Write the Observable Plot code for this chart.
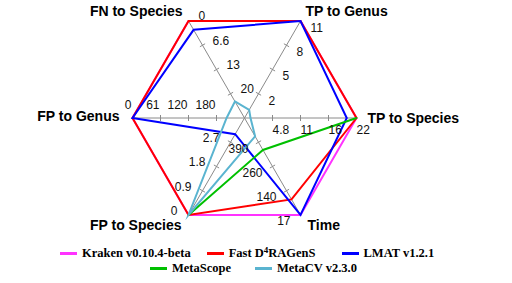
<!DOCTYPE html>
<html><head><meta charset="utf-8">
<script src="https://cdn.jsdelivr.net/npm/d3@7"></script>
<script src="https://cdn.jsdelivr.net/npm/@observablehq/plot@0.6"></script>
<style>
body{margin:0;background:#fff;width:512px;height:283px;overflow:hidden;}
#chart svg{display:block;}
#legend{margin-top:5.5px;font-family:"Liberation Serif","Times New Roman",serif;font-weight:bold;font-size:12.5px;color:#000;}
.row{display:flex;height:15px;align-items:center;white-space:nowrap;}
.item{display:flex;align-items:center;}
.sw{display:inline-block;width:17px;height:3px;margin-right:5px;}
.sup{font-size:9px;position:relative;top:-4px;line-height:0;}
</style></head><body>
<div id="chart"></div>
<div id="legend"></div>
<script>
// ---- data ----
const axes = ["TP to Species","TP to Genus","FN to Species","FP to Genus","FP to Species","Time"];
const axisInner = [-0.93, -1, 26.4, 244, 3.6, 509];   // value at centre
const axisOuter = [22, 11, 0, 0, 0, 17];               // value at rim
const tickFractions = [0.25, 0.5, 0.75, 1];
const tickLabels = [
  ["4.8","11","16","22"],
  ["2","5","8","11"],
  ["20","13","6.6","0"],
  ["180","120","61","0"],
  ["2.7","1.8","0.9","0"],
  ["390","260","140","17"]
];
const seriesNames = ["Kraken v0.10.4-beta","Fast D4RAGenS","LMAT v1.2.1","MetaScope","MetaCV v2.3.0"];
const kraken    = [22, 11, 0, 0, 0, 17];
const fast      = [22, 11, 0, 0, 0, 96];
const lmat      = [20, 11, 2.4, 0, 3.0, 17];
const metascope = [22, null, null, null, 0, 347];
const metacv    = [0.3, 0, 21.9, 205, 0, 416];
const seriesValues = [kraken, fast, lmat, metascope, metacv];
const colors = ["#ff33ff","#ff0000","#0000ff","#00c000","#5ab4d0"];

// ---- styles ----
const R = 112;
const tickStyle = [
  {anchor:"start", dx:0,   dy:12},
  {anchor:"start", dx:10,  dy:7},
  {anchor:"start", dx:10,  dy:-4.5},
  {anchor:"end",   dx:-1,  dy:-13},
  {anchor:"end",   dx:-11, dy:-4},
  {anchor:"end",   dx:-10, dy:6.5}
];
const titleStyle = [
  {anchor:"start", dx:11,  dy:1},
  {anchor:"start", dx:5,   dy:-9},
  {anchor:"end",   dx:-6,  dy:-9},
  {anchor:"end",   dx:-13, dy:-1},
  {anchor:"end",   dx:-7,  dy:11},
  {anchor:"start", dx:7,   dy:11}
];

const ang = i => i * Math.PI / 3;
const frac = (i, v) => (v - axisInner[i]) / (axisOuter[i] - axisInner[i]);
const pt = (i, f) => ({x: f * Math.cos(ang(i)), y: f * Math.sin(ang(i))});

const marks = [];
// axis spokes
marks.push(Plot.link(axes, {
  x1: () => 0, y1: () => 0,
  x2: (d, i) => Math.cos(ang(i)), y2: (d, i) => Math.sin(ang(i)),
  stroke: "#8a8a8a", strokeWidth: 1
}));
// tick marks
const tickData = [];
axes.forEach((a, i) => tickFractions.slice(0, 3).forEach(f => tickData.push({i, f})));
const tl = 3 / R;
marks.push(Plot.link(tickData, {
  x1: d => pt(d.i, d.f).x - tl * (-Math.sin(ang(d.i))),
  y1: d => pt(d.i, d.f).y - tl * Math.cos(ang(d.i)),
  x2: d => pt(d.i, d.f).x + tl * (-Math.sin(ang(d.i))),
  y2: d => pt(d.i, d.f).y + tl * Math.cos(ang(d.i)),
  stroke: "#8a8a8a", strokeWidth: 1
}));
// series lines
seriesValues.forEach((vals, s) => {
  const pts = [];
  for (let k = 0; k <= axes.length; k++) {
    const i = k % axes.length;
    const v = vals[i];
    if (v == null) pts.push({x: NaN, y: NaN});
    else pts.push(pt(i, frac(i, v)));
  }
  marks.push(Plot.line(pts, {x: "x", y: "y", stroke: colors[s], strokeWidth: 2, strokeLinejoin: "miter", strokeMiterlimit: 10}));
});
// tick labels
axes.forEach((a, i) => {
  const st = tickStyle[i];
  marks.push(Plot.text(tickLabels[i], {
    x: (d, k) => pt(i, tickFractions[k]).x,
    y: (d, k) => pt(i, tickFractions[k]).y,
    text: d => d, textAnchor: st.anchor, dx: st.dx, dy: st.dy,
    fontSize: 12, fill: "#111"
  }));
});
// axis titles
axes.forEach((a, i) => {
  const st = titleStyle[i];
  marks.push(Plot.text([a], {
    x: () => pt(i, 1).x, y: () => pt(i, 1).y,
    text: d => d, textAnchor: st.anchor, dx: st.dx, dy: st.dy,
    fontSize: 14, fontWeight: "bold", fill: "#000"
  }));
});

const chart = Plot.plot({
  width: 512, height: 240,
  marginLeft: 132, marginRight: 156, marginTop: 5.5, marginBottom: 10.5,
  x: {domain: [-1, 1], axis: null},
  y: {domain: [-1, 1], axis: null},
  style: {fontFamily: "'Liberation Sans', Arial, sans-serif", background: "#fff", overflow: "visible"},
  marks
});
document.getElementById("chart").appendChild(chart);

// ---- legend ----
const rows = [[0, 1, 2], [3, 4]];
const rowPad = [60, 150];
const gaps = [[16, 26], [24]];
const legend = document.getElementById("legend");
rows.forEach((r, ri) => {
  const row = document.createElement("div");
  row.className = "row";
  row.style.paddingLeft = rowPad[ri] + "px";
  r.forEach((s, k) => {
    const it = document.createElement("div");
    it.className = "item";
    if (k < r.length - 1) it.style.marginRight = gaps[ri][k] + "px";
    const sw = document.createElement("span");
    sw.className = "sw"; sw.style.background = colors[s];
    const tx = document.createElement("span");
    tx.innerHTML = seriesNames[s].replace("D4", 'D<span class="sup">4</span>');
    it.appendChild(sw); it.appendChild(tx);
    row.appendChild(it);
  });
  legend.appendChild(row);
});
</script>
</body></html>
